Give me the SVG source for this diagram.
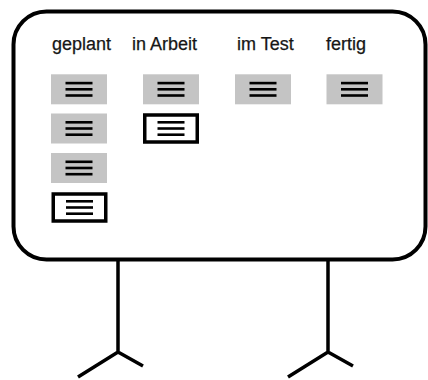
<svg xmlns="http://www.w3.org/2000/svg" width="428" height="380" viewBox="0 0 428 380">
<style>
.board{fill:#fff;stroke:#000;stroke-width:4}
.leg{fill:none;stroke:#000;stroke-width:3.5;stroke-linecap:butt;stroke-linejoin:miter}
.lbl{font-family:"Liberation Sans",Arial,sans-serif;font-size:18px;fill:#161616;stroke:#161616;stroke-width:0.25}
.card{fill:#c4c4c4}
.cardx{fill:#fff;stroke:#000;stroke-width:3.5}
.ln{stroke:#000;stroke-width:2.6}
</style>
<defs>
<g id="lines">
<line class="ln" x1="-13.5" y1="-6.2" x2="13.5" y2="-6.2"/>
<line class="ln" x1="-13.5" y1="0" x2="13.5" y2="0"/>
<line class="ln" x1="-13.5" y1="6.2" x2="13.5" y2="6.2"/>
</g>
<g id="gcard">
<rect class="card" x="-28" y="-15" width="56" height="30"/>
<use href="#lines"/>
</g>
<g id="bcard">
<rect class="cardx" x="-26.25" y="-13.5" width="52.5" height="27"/>
<use href="#lines"/>
</g>
</defs>
<rect width="428" height="380" fill="#fff"/>
<g id="stand">
<path class="leg" d="M118,260 V352 M78,377 L118,352 L143,366"/>
<path class="leg" d="M328,260 V352 M288,377 L328,352 L353,366"/>
</g>
<g id="board">
<rect class="board" x="13.5" y="11.5" width="412" height="248" rx="33" ry="33"/>
</g>
<g id="col-geplant">
<text class="lbl" x="52" y="50">geplant</text>
<use href="#gcard" x="79" y="89.3"/>
<use href="#gcard" x="79" y="128.5"/>
<use href="#gcard" x="79" y="168"/>
<use href="#bcard" x="79.5" y="207.5"/>
</g>
<g id="col-arbeit">
<text class="lbl" x="132" y="50">in Arbeit</text>
<use href="#gcard" x="171" y="89.3"/>
<use href="#bcard" x="171" y="128.5"/>
</g>
<g id="col-test">
<text class="lbl" x="237" y="50">im Test</text>
<use href="#gcard" x="263" y="89.3"/>
</g>
<g id="col-fertig">
<text class="lbl" x="326" y="50">fertig</text>
<use href="#gcard" x="354.5" y="89.3"/>
</g>
</svg>
